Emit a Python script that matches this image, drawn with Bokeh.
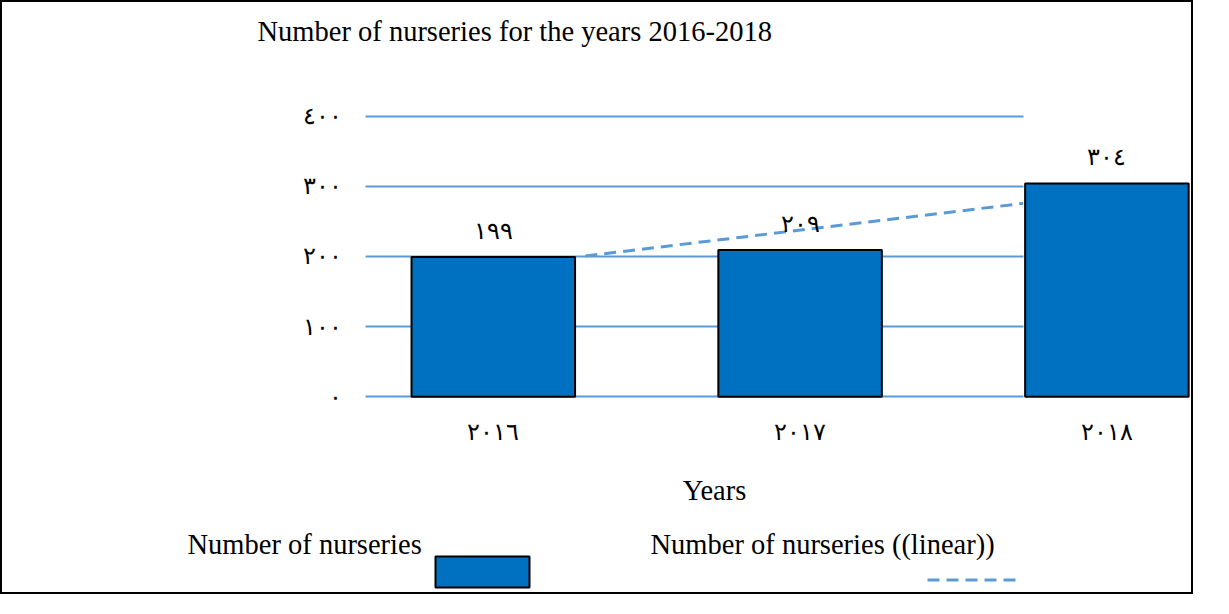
import numpy as np
from bokeh.plotting import figure
from bokeh.layouts import column
from bokeh.models import Range1d, FixedTicker, Label, BoxAnnotation, Arrow
from bokeh.embed import file_html
from bokeh.resources import INLINE

# ---- data ----
years = ["2016", "2017", "2018"]
year_labels = ["٢٠١٦", "٢٠١٧", "٢٠١٨"]
nurseries = [199, 209, 304]
y_ticks = [0, 100, 200, 300, 400]
y_tick_labels = ["٠", "١٠٠", "٢٠٠", "٣٠٠", "٤٠٠"]
series_name = "Number of nurseries"
trend_name = "Number of nurseries ((linear))"
title_text = "Number of nurseries for the years 2016-2018"
x_title = "Years"

AR = str.maketrans("0123456789", "٠١٢٣٤٥٦٧٨٩")
value_labels = [str(v).translate(AR) for v in nurseries]
xs = list(range(len(years)))

FONT = "Liberation Serif"
BAR = "#0070C0"
LINE = "#5B9BD5"
W = 1193
LEFT = 100
H1 = 455
H2 = 594 - H1
X0, X1 = -1.2738, 2.2888      # visible x range
GX0, GX1 = -0.4166, 1.727     # extent of the grid lines / y axis position

# ---- main chart ----
p = figure(width=W, height=H1, output_backend="svg", toolbar_location=None,
           x_range=Range1d(X0, X1), y_range=Range1d(-14, 482),
           min_border_left=LEFT, min_border_right=0, min_border_top=56,
           min_border_bottom=H1 - 404, title=title_text)
p.styles = {"border": "2px solid #000000", "border-bottom": "none"}
p.outline_line_color = None
p.background_fill_color = "white"
p.border_fill_color = "white"

p.title.text_font = FONT
p.title.text_font_size = "28.5px"
p.title.text_font_style = "normal"
p.title.text_color = "black"
p.title.align = "left"
p.title.offset = 255 - LEFT
p.title.standoff = 23

# grid lines (only across the left part, as in the original)
p.xgrid.visible = False
p.ygrid.ticker = FixedTicker(ticks=y_ticks)
p.ygrid.grid_line_color = LINE
p.ygrid.grid_line_width = 2
p.ygrid.cross_bounds = (GX0, GX1)

# axes
p.yaxis.ticker = FixedTicker(ticks=y_ticks)
p.yaxis.major_label_overrides = {t: l for t, l in zip(y_ticks, y_tick_labels)}
p.yaxis.fixed_location = GX0
p.xaxis.ticker = FixedTicker(ticks=xs)
p.xaxis.major_label_overrides = {i: l for i, l in zip(xs, year_labels)}
for ax in (p.xaxis, p.yaxis):
    ax.axis_line_color = None
    ax.major_tick_line_color = None
    ax.minor_tick_line_color = None
    ax.major_tick_out = 0
    ax.minor_tick_out = 0
    ax.major_label_text_font = FONT
    ax.major_label_text_font_size = "23.5px"
    ax.major_label_text_color = "black"
p.yaxis.major_label_standoff = 23
p.xaxis.major_label_standoff = 12

# bars
p.vbar(x=xs, top=nurseries, bottom=0, width=0.533, fill_color=BAR,
       line_color="black", line_width=2)

# linear trend line (least-squares fit of the series)
slope, intercept = np.polyfit(xs, nurseries, 1)
tx = [0.30, GX1]
ty = [slope * t + intercept for t in tx]
p.line(tx, ty, line_color=LINE, line_width=3, line_dash="12 7")

# value labels
p.text(x=xs, y=nurseries, text=value_labels, text_align="center",
       text_baseline="middle", y_offset=-26, text_font_size="23.5px",
       text_font={"value": FONT}, text_color="black")

# ---- lower strip: axis title and legend (label, then its key) ----
# the strip's frame is aligned with the main frame, so it spans x = LEFT..W
lg = figure(width=W, height=H2, output_backend="svg", toolbar_location=None,
            x_range=Range1d(LEFT, W), y_range=Range1d(H2, 0),
            x_axis_location=None, y_axis_location=None,
            min_border=0, min_border_left=LEFT, min_border_right=0,
            min_border_top=0, min_border_bottom=0)
lg.styles = {"border": "2px solid #000000", "border-top": "none"}
lg.grid.visible = False
lg.outline_line_color = None
lg.background_fill_color = "white"
lg.border_fill_color = "white"

lg.add_layout(Label(x=712, y=35, text=x_title, text_font=FONT,
                    text_font_size="28.5px", text_align="center",
                    text_baseline="alphabetic", text_color="black"))
lg.add_layout(Label(x=185, y=89, text=series_name, text_font=FONT,
                    text_font_size="28.5px", text_baseline="alphabetic",
                    text_color="black"))
lg.add_layout(Label(x=648, y=89, text=trend_name, text_font=FONT,
                    text_font_size="28.5px", text_baseline="alphabetic",
                    text_color="black"))
lg.add_layout(BoxAnnotation(left=433, right=527, top=101, bottom=132,
                            fill_color=BAR, fill_alpha=1, line_color="black",
                            line_width=2, line_alpha=1))
lg.add_layout(Arrow(end=None, x_start=925, y_start=124.5, x_end=1018, y_end=124.5,
                    line_color=LINE, line_width=3, line_dash="12 7"))

layout = column(p, lg, spacing=0)
open("out.html", "w").write(file_html(layout, INLINE))
